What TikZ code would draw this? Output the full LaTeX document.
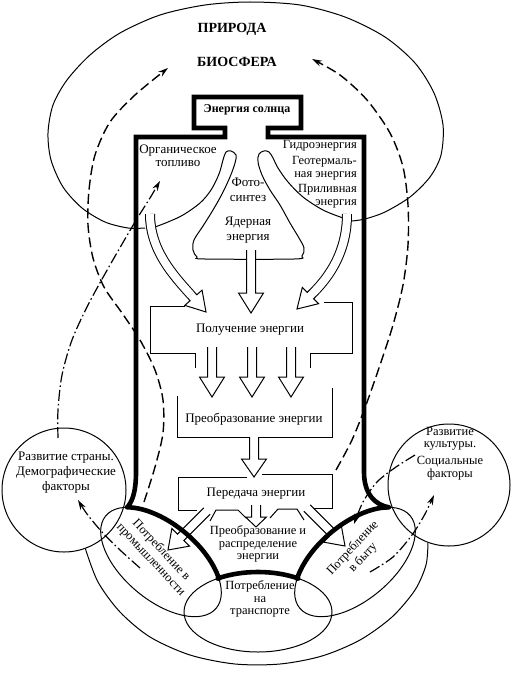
\documentclass[tikz,border=0pt]{standalone}
\usepackage{fontspec}
\setmainfont{Liberation Serif}
\usetikzlibrary{calc}
\usetikzlibrary{arrows.meta}

\begin{document}
\begin{tikzpicture}[x=1pt, y=1pt, yscale=-1]
        % ================= 样式定义 =================
        \tikzset{
            % 能量系统粗边框
            thick_frame/.style={line width=4.6pt, black},
            thick_arc/.style={line width=4.6pt, black, line cap=round},
            % 细线 (椭圆, 圆, 方框)
            thin_line/.style={line width=1pt, black},
            % 长虚线 / 点划线 (带箭头)
            dash_line/.style={line width=1.4pt, dash pattern=on 10pt off 4.5pt, -{Stealth[length=10pt, width=6pt]}},
            dashdot_line/.style={line width=1.2pt, dash pattern=on 11pt off 3pt on 1.6pt off 3pt, -{Stealth[length=10pt, width=6pt]}},
            % 空心箭头
            block_arrow/.style={draw=black, fill=white, line width=1pt},
            hollow_shaft/.style={draw=black, double=white, line width=1pt, double distance=8pt},
            % 文字
            txt/.style={align=center, inner sep=0pt, font=\fontsize{13}{14.5}\selectfont},
            tight_txt/.style={align=center, inner sep=0pt, font=\fontsize{12.5}{12.5}\selectfont},
            title_txt/.style={inner sep=0pt, font=\fontsize{14}{16}\selectfont\bfseries}
        }

        % 空心箭头: 名称, 起点, 箭尖, 箭头长, 箭头半宽
        \def\barrow#1#2#3#4#5{
            \coordinate (#1_h) at ($(#3)!#4!(#2)$);
            \filldraw[block_arrow]
                ($(#2)!4.5pt!90:(#3)$) -- ($(#1_h)!4.5pt!90:(#3)$)
                -- ($(#1_h)!#5!90:(#3)$) -- (#3)
                -- ($(#1_h)!#5!-90:(#3)$) -- ($(#1_h)!4.5pt!-90:(#3)$)
                -- ($(#2)!4.5pt!-90:(#3)$);
        }

        \useasboundingbox (0,0) rectangle (512,674);

        % ================= 自然 / 生物圈 轮廓 =================
        \draw[thin_line] plot[smooth] coordinates {(145,228) (128,228) (105,222) (82,208) (63,187) (51,160) (48,133) (53,105) (67,80) (90,55) (120,33) (160,15) (205,5) (250,2) (300,5) (345,17) (385,37) (415,63) (434,93) (443,125) (441,155) (430,177) (410,197) (385,212) (365,219) (352,221)};
        % 两个钩形与三角形
        \draw[thin_line] plot[smooth, tension=0.55] coordinates {(343,218) (323,210) (303,197) (288,182) (278,168) (273,158) (269,152) (264,151) (259,154) (258,162) (262,175) (270,190) (280,205) (290,223) (299,238) (304,248) (302,256) (294,259) (205,259) (197,257) (193,250) (194,240) (203,226) (213,210) (222,194) (230,177) (235,163) (236,155) (231,151) (226,152) (223,160) (219,174) (211,190) (200,203) (183,215) (168,222) (155,227)};

        % ================= 底部椭圆与圆 =================
        \coordinate (ind_c) at (161,562);
        \coordinate (hh_c) at (355,562);
        \coordinate (tr_c) at (258,612);
        \begin{scope}[shift={(161,562)}, rotate=40]
            \draw[thin_line] (0,0) ellipse [x radius=72, y radius=38];
            \coordinate (ind_a) at (212:72 and 38);
        \end{scope}
        \begin{scope}[shift={(355,562)}, rotate=-40]
            \draw[thin_line] (0,0) ellipse [x radius=72, y radius=38];
            \coordinate (hh_b) at (328:72 and 38);
        \end{scope}
        \draw[thin_line] (tr_c) ellipse [x radius=74, y radius=40];

        \node[circle, draw, thin_line, minimum size=124pt, inner sep=0pt] (strana_c) at (64,490) {};
        \node[circle, draw, thin_line, minimum size=122pt, inner sep=0pt] (kultura_c) at (449,485) {};
        % 外侧大弧
        \draw[thin_line] plot[smooth] coordinates {(strana_c.-70) (98,582) (120,612) (150,637) (190,655) (235,664) (280,664) (322,656) (360,640) (392,617) (415,590) (426,565) (kultura_c.-110)};

        % ================= 空心箭头 =================
        \coordinate (org_s) at (150,214);
        \coordinate (org_p) at (191,295);
        \coordinate (org_t) at (206,312);
        \draw[hollow_shaft] (org_s) .. controls (150,250) and (173,275) .. (org_p);
        \barrow{org}{org_p}{org_t}{19pt}{11.5pt}

        \coordinate (pri_s) at (347,214);
        \coordinate (pri_p) at (313,293);
        \coordinate (pri_t) at (297,309);
        \draw[hollow_shaft] (pri_s) .. controls (347,250) and (331,275) .. (pri_p);
        \barrow{pri}{pri_p}{pri_t}{19pt}{11.5pt}

        \coordinate (ya_s) at (251,250);
        \coordinate (ya_t) at (251,313);
        \barrow{ya}{ya_s}{ya_t}{20pt}{12.5pt}

        \foreach \x [count=\i] in {212,252,291} {
            \coordinate (pol\i_s) at (\x,347);
            \coordinate (pol\i_t) at (\x,397);
            \barrow{pol\i}{pol\i_s}{pol\i_t}{20pt}{12.5pt}
        }

        \coordinate (pre_s) at (254,437);
        \coordinate (pre_t) at (254,477);
        \barrow{pre}{pre_s}{pre_t}{18pt}{12.5pt}

        \coordinate (per_s) at (256,505);
        \coordinate (per_t) at (256,527);
        \barrow{per}{per_s}{per_t}{10pt}{10.5pt}

        \coordinate (ld_s) at (207,511);
        \coordinate (ld_t) at (168,550);
        \barrow{ld}{ld_s}{ld_t}{18pt}{12.5pt}

        \coordinate (rd_s) at (307,508);
        \coordinate (rd_t) at (345,546);
        \barrow{rd}{rd_s}{rd_t}{18pt}{12.5pt}

        % ================= 方框 (开口) =================
        \draw[thin_line] (185,306) -- (150,306) -- (150,353) -- (195,353) -- (195,368);
        \draw[thin_line] (324,302) -- (352,302) -- (352,353) -- (310,353) -- (310,368);
        \draw[thin_line] (177,396) -- (177,437) -- (249,437);
        \draw[thin_line] (259,437) -- (332,437) -- (332,388);
        \draw[thin_line] (247,477) -- (178,477) -- (178,510) -- (197,510);
        \draw[thin_line] (262,474) -- (332,474) -- (332,508) -- (314,508);
        \draw[thin_line] (210,521) -- (216,510) -- (238,510) -- (246,518);
        \draw[thin_line] (270,518) -- (278,509) -- (297,509) -- (304,520);

        % ================= 粗边框 =================
        \draw[thick_frame] (ind_a) .. controls (131,503) and (136,495) .. (136,472) -- (136,137) -- (225,137) -- (225,128) -- (194,128) -- (194,97) -- (301,97) -- (301,128) -- (268,128) -- (268,137) -- (364,137) -- (364,472) .. controls (364,495) and (376,505) .. (hh_b);
        \begin{scope}[shift={(161,562)}, rotate=40]
            \draw[thick_arc] (212:72 and 38) arc [start angle=212, end angle=320, x radius=72, y radius=38];
        \end{scope}
        \begin{scope}[shift={(355,562)}, rotate=-40]
            \draw[thick_arc] (220:72 and 38) arc [start angle=220, end angle=328, x radius=72, y radius=38];
        \end{scope}
        \draw[thick_arc] ($(tr_c)+(237:74 and 40)$) arc [start angle=237, end angle=303, x radius=74, y radius=40];

        % ================= 虚线 / 点划线 =================
        \draw[dash_line] plot[smooth] coordinates {(144,502) (155,467) (163,433) (163,400) (155,370) (140,340) (122,313) (104,287) (93,258) (88,225) (89,190) (95,155) (110,122) (135,95) (168,68)};
        \draw[dash_line] plot[smooth] coordinates {(336,470) (352,440) (366,405) (380,365) (393,325) (403,285) (408,245) (408,205) (403,167) (390,133) (367,100) (340,75) (312,59)};
        \draw[dashdot_line] plot[smooth] coordinates {(58,438) (58,410) (62,375) (72,340) (88,305) (110,265) (135,222) (150,198) (160,181)};
        \draw[dashdot_line] plot[smooth] coordinates {(140,568) (120,550) (102,532) (87,514) (78,500)};
        \draw[dashdot_line] plot[smooth] coordinates {(415,455) (396,467) (377,482) (363,502) (354,524)};
        \draw[dashdot_line] plot[smooth] coordinates {(370,572) (393,557) (412,535) (425,514) (434,495)};

        % ================= 文字 =================
        \node[title_txt] (priroda) at (232,29) {ПРИРОДА};
        \node[title_txt] (biosfera) at (237,62) {БИОСФЕРА};
        \node[txt, font=\fontsize{12}{14}\selectfont\bfseries] (solnce) at (247,110) {Энергия солнца};
        \node[tight_txt, font=\fontsize{13}{13}\selectfont] (organika) at (178,156) {Органическое\\топливо};
        \node[tight_txt, anchor=east] (gidro) at (357,146) {Гидроэнергия};
        \node[tight_txt, align=right, anchor=east] (geoterm) at (357,168) {Геотермаль-\\ная энергия};
        \node[tight_txt, align=right, anchor=east] (priliv) at (357,196) {Приливная\\энергия};
        \node[txt] (foto) at (248,190) {Фото-\\синтез};
        \node[txt] (yadro) at (248,230) {Ядерная\\энергия};
        \node[txt] (poluch) at (250,330) {Получение энергии};
        \node[txt] (preobr) at (254,419) {Преобразование энергии};
        \node[txt] (peredacha) at (256,494) {Передача энергии};
        \node[tight_txt] (raspred) at (258,544) {Преобразование и\\распределение\\энергии};
        \node[tight_txt, font=\fontsize{12.5}{12.5}\selectfont] (transport) at (260,599) {Потребление\\на\\транспорте};
        \node[tight_txt, rotate=-47, font=\fontsize{12.5}{14}\selectfont] (promysh) at (156,555) {Потребление в\\промышленности};
        \node[tight_txt, rotate=47, font=\fontsize{12.5}{14}\selectfont] (byt) at (358,553) {Потребление\\в быту};
        \node[txt, font=\fontsize{13}{15}\selectfont] (strana) at (66,473) {Развитие страны.\\Демографические\\факторы};
        \node[tight_txt] (kultura) at (450,439) {Развитие\\культуры.};
        \node[tight_txt] (socialnye) at (450,468) {Социальные\\факторы};

\end{tikzpicture}
\end{document}
